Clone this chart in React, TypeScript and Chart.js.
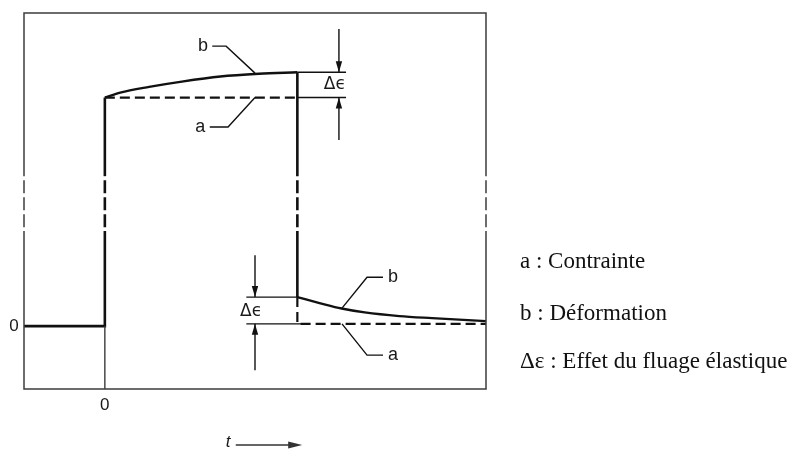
import React, { useEffect, useRef } from "react";
import { Chart, registerables } from "chart.js";

Chart.register(...registerables);

// ---- data (time units, strain/stress units) ----
const timeStart = -4.2;
const loadTime = 0;
const unloadTime = 10;
const timeEnd = 19.8;
const valueMin = -2.75;
const valueMax = 13.7;
const breakLow = 4.16;
const breakHigh = 6.56;

const loadingTime = [0, 0.8, 2.3, 4, 6, 8, 10];
const strainLoading = [10, 10.22, 10.47, 10.7, 10.92, 11.04, 11.11];
const recoveryTime = [10, 11.2, 12.3, 13.5, 15.3, 17, 19.8];
const strainRecovery = [1.27, 1.0, 0.77, 0.6, 0.44, 0.35, 0.22];
const stressLoaded = 10;
const stressAfter = 0.1;

const legendLines = ["a : Contrainte", "b : Déformation", "Δε : Effet du fluage élastique"];

type P = { x: number; y: number };
const pts = (xs: number[], ys: number[]): P[] => xs.map((x, i) => ({ x, y: ys[i] }));

const BLACK = "#111";
const FRAME = "#3c3c3c";

function seg(points: P[], width: number, color: string, extra: any = {}) {
  return {
    data: points,
    borderColor: color,
    borderWidth: width,
    pointRadius: 0,
    tension: 0,
    clip: false,
    fill: false,
    borderJoinStyle: "miter",
    ...extra,
  };
}
function breakSeg(x: number, width: number, color: string) {
  return seg(
    [
      { x, y: breakHigh },
      { x, y: breakLow },
    ],
    width,
    color,
    { borderDash: [13, 4], borderDashOffset: 13 }
  );
}

const labelTexts = [
  { t: "b", x: 5.1, y: 12.25 },
  { t: "a", x: 4.95, y: 8.71 },
  { t: "b", x: 14.97, y: 2.14 },
  { t: "a", x: 14.97, y: -1.27 },
];
const deltaTexts = [
  { t: "Δϵ", x: 11.95, y: 10.57 },
  { t: "Δϵ", x: 7.6, y: 0.62 },
];
const zeroTexts = [
  { t: "0", x: -4.72, y: 0 },
  { t: "0", x: 0, y: -3.46 },
];

const overlay = {
  id: "overlay",
  afterDatasetsDraw(chart: any) {
    const { ctx, scales, chartArea } = chart;
    const xs = scales.x;
    const ys = scales.y;
    ctx.save();
    // arrow heads
    chart.data.datasets.forEach((ds: any, i: number) => {
      if (!ds.arrowEnd) return;
      const meta = chart.getDatasetMeta(i);
      const n = meta.data.length;
      const a = meta.data[n - 2];
      const b = meta.data[n - 1];
      const ang = Math.atan2(b.y - a.y, b.x - a.x);
      const L = 11;
      const W = 3.2;
      ctx.fillStyle = BLACK;
      ctx.beginPath();
      ctx.moveTo(b.x, b.y);
      ctx.lineTo(b.x - L * Math.cos(ang) + W * Math.sin(ang), b.y - L * Math.sin(ang) - W * Math.cos(ang));
      ctx.lineTo(b.x - L * Math.cos(ang) - W * Math.sin(ang), b.y - L * Math.sin(ang) + W * Math.cos(ang));
      ctx.closePath();
      ctx.fill();
    });
    ctx.fillStyle = "#1a1a1a";
    ctx.textAlign = "center";
    ctx.textBaseline = "middle";
    ctx.font = "18px 'Liberation Sans', Arial, sans-serif";
    labelTexts.forEach((l) => ctx.fillText(l.t, xs.getPixelForValue(l.x), ys.getPixelForValue(l.y)));
    ctx.font = "17px 'DejaVu Sans', 'Liberation Sans', sans-serif";
    deltaTexts.forEach((l) => ctx.fillText(l.t, xs.getPixelForValue(l.x), ys.getPixelForValue(l.y)));
    ctx.font = "17px 'Liberation Sans', Arial, sans-serif";
    zeroTexts.forEach((l) => ctx.fillText(l.t, xs.getPixelForValue(l.x), ys.getPixelForValue(l.y)));

    // t -> axis label
    const ty = chartArea.bottom + 56;
    ctx.font = "italic 17px 'Liberation Sans', Arial, sans-serif";
    ctx.fillText("t", xs.getPixelForValue(6.4), ty - 3);
    const ax0 = xs.getPixelForValue(6.8);
    const ax1 = xs.getPixelForValue(10.25);
    ctx.strokeStyle = "#333";
    ctx.lineWidth = 1.5;
    ctx.beginPath();
    ctx.moveTo(ax0, ty);
    ctx.lineTo(ax1 - 8, ty);
    ctx.stroke();
    ctx.fillStyle = "#333";
    ctx.beginPath();
    ctx.moveTo(ax1, ty);
    ctx.lineTo(ax1 - 14, ty - 3.5);
    ctx.lineTo(ax1 - 14, ty + 3.5);
    ctx.closePath();
    ctx.fill();

    // legend text
    ctx.fillStyle = "#111";
    ctx.textAlign = "left";
    ctx.textBaseline = "alphabetic";
    ctx.font = "23px 'Liberation Serif', 'Times New Roman', serif";
    const lx = chartArea.right + 34;
    const lys = [268, 320, 368];
    legendLines.forEach((t, i) => ctx.fillText(t, lx, lys[i]));
    ctx.restore();
  },
};

export default function App() {
  const ref = useRef<HTMLCanvasElement | null>(null);
  useEffect(() => {
    if (!ref.current) return;
    const strainPeak = strainLoading[strainLoading.length - 1];
    const strainDrop = strainRecovery[0];
    const thin = 1.4;
    const datasets: any[] = [
      // frame
      seg(
        [
          { x: timeStart, y: breakHigh },
          { x: timeStart, y: valueMax },
          { x: timeEnd, y: valueMax },
          { x: timeEnd, y: breakHigh },
        ],
        1.5,
        FRAME
      ),
      seg(
        [
          { x: timeEnd, y: breakLow },
          { x: timeEnd, y: valueMin },
          { x: timeStart, y: valueMin },
          { x: timeStart, y: breakLow },
        ],
        1.5,
        FRAME
      ),
      breakSeg(timeStart, 1.5, FRAME),
      breakSeg(timeEnd, 1.5, FRAME),
      // time origin reference below zero
      seg([{ x: loadTime, y: 0 }, { x: loadTime, y: valueMin }], 1.4, FRAME),
      // stress a (dashed)
      seg([{ x: loadTime, y: stressLoaded }, { x: unloadTime, y: stressLoaded }], 2.2, BLACK, { borderDash: [10, 5] }),
      seg(
        [
          { x: unloadTime, y: strainDrop },
          { x: unloadTime, y: stressAfter },
          { x: timeEnd, y: stressAfter },
        ],
        2.2,
        BLACK,
        { borderDash: [10, 5] }
      ),
      // strain b
      seg(
        [
          { x: timeStart, y: 0 },
          { x: loadTime, y: 0 },
          { x: loadTime, y: breakLow },
        ],
        2.6,
        BLACK
      ),
      breakSeg(loadTime, 2.6, BLACK),
      seg([{ x: loadTime, y: breakHigh }, { x: loadTime, y: stressLoaded }], 2.6, BLACK),
      seg(pts(loadingTime, strainLoading), 2.4, BLACK, { tension: 0.4, cubicInterpolationMode: "monotone" }),
      seg([{ x: unloadTime, y: strainPeak }, { x: unloadTime, y: breakHigh }], 2.6, BLACK),
      breakSeg(unloadTime, 2.6, BLACK),
      seg([{ x: unloadTime, y: breakLow }, { x: unloadTime, y: strainDrop }], 2.6, BLACK),
      seg(pts(recoveryTime, strainRecovery), 2.4, BLACK, { tension: 0.4, cubicInterpolationMode: "monotone" }),
      // Δε upper extension lines & arrows
      seg([{ x: unloadTime, y: strainPeak }, { x: 12.53, y: strainPeak }], thin, BLACK),
      seg([{ x: unloadTime, y: stressLoaded }, { x: 12.53, y: stressLoaded }], thin, BLACK),
      seg([{ x: 12.16, y: 13.0 }, { x: 12.16, y: strainPeak }], thin, BLACK, { arrowEnd: true }),
      seg([{ x: 12.16, y: 8.14 }, { x: 12.16, y: stressLoaded }], thin, BLACK, { arrowEnd: true }),
      // Δε lower extension lines & arrows
      seg([{ x: 7.35, y: strainDrop }, { x: unloadTime, y: strainDrop }], thin, BLACK),
      seg([{ x: 7.35, y: stressAfter }, { x: 10.4, y: stressAfter }], thin, BLACK),
      seg([{ x: 7.8, y: 3.1 }, { x: 7.8, y: strainDrop }], thin, BLACK, { arrowEnd: true }),
      seg([{ x: 7.8, y: -1.93 }, { x: 7.8, y: stressAfter }], thin, BLACK, { arrowEnd: true }),
      // leader lines
      seg([{ x: 5.58, y: 12.25 }, { x: 6.3, y: 12.25 }, { x: 7.8, y: 11.07 }], thin, BLACK),
      seg([{ x: 5.45, y: 8.71 }, { x: 6.4, y: 8.71 }, { x: 7.8, y: stressLoaded }], thin, BLACK),
      seg([{ x: 14.45, y: 2.14 }, { x: 13.62, y: 2.14 }, { x: 12.32, y: 0.79 }], thin, BLACK),
      seg([{ x: 14.45, y: -1.27 }, { x: 13.62, y: -1.27 }, { x: 12.32, y: stressAfter }], thin, BLACK),
    ];
    const chart = new Chart(ref.current, {
      type: "line",
      data: { datasets },
      options: {
        animation: false,
        responsive: false,
        devicePixelRatio: 1,
        layout: { padding: { left: 24, top: 13, right: 305, bottom: 61 } },
        scales: {
          x: { type: "linear", min: timeStart, max: timeEnd, display: false },
          y: { type: "linear", min: valueMin, max: valueMax, display: false },
        },
        plugins: { legend: { display: false }, tooltip: { enabled: false } },
        events: [],
      },
      plugins: [overlay],
    });
    return () => chart.destroy();
  }, []);
  return (
    <div style={{ position: "fixed", left: 0, top: 0, width: 791, height: 450, background: "#fff" }}>
      <canvas ref={ref} width={791} height={450} style={{ width: 791, height: 450 }} />
    </div>
  );
}
